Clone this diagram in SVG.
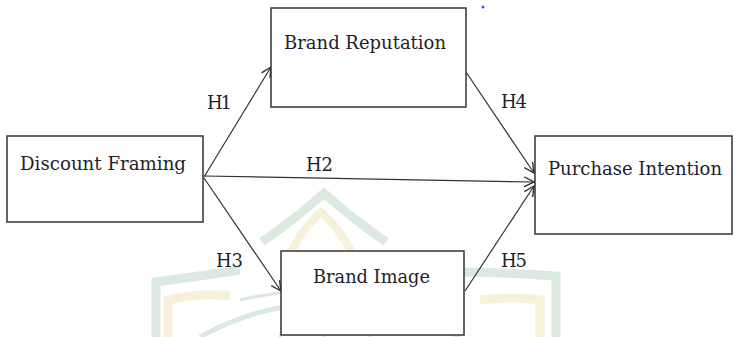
<svg xmlns="http://www.w3.org/2000/svg" width="735" height="337" viewBox="0 0 735 337">
  <style>
    .box { fill: #ffffff; stroke: #333333; stroke-width: 1.5; }
    .lbl { font-family: "DejaVu Serif", "Liberation Serif", serif; font-size: 18px; fill: #1e1e2a; }
    .hl { font-family: "DejaVu Serif", "Liberation Serif", serif; font-size: 18px; fill: #1e1e2a; }
    .conn { stroke: #333333; stroke-width: 1.2; fill: none; marker-end: url(#arr); }
    .wg { fill: none; stroke: #dbe9e1; }
    .wy { fill: none; stroke: #f7f0da; }
  </style>
  <defs>
    <marker id="arr" markerUnits="userSpaceOnUse" markerWidth="12" markerHeight="12" refX="10" refY="5" orient="auto" viewBox="0 0 12 10">
      <path d="M0,0 L10,5 L0,10" fill="none" stroke="#333333" stroke-width="1.4"/>
    </marker>
  </defs>
  <rect width="735" height="337" fill="#ffffff"/>
  <g id="watermark">
    <path class="wg" stroke-width="9" d="M262,242 Q300,215 324,193 Q348,215 386,242"/>
    <path class="wy" stroke-width="8" d="M283,268 Q300,230 321,212 Q342,230 360,268"/>
    <path class="wg" stroke-width="9" d="M156,337 L156,282 Q200,276 240,270"/>
    <path class="wg" stroke-width="9" d="M556,337 L556,276 Q510,272 440,272"/>
    <path class="wy" stroke-width="9" d="M168,337 L168,300 Q200,292 230,296"/>
    <path class="wy" stroke-width="9" d="M540,337 L540,300 Q515,296 480,300"/>
    <path class="wg" stroke-width="5" d="M200,337 Q320,270 460,337"/>
    <path class="wg" stroke-width="3" d="M240,300 Q324,280 420,300"/>
    <path class="wg" stroke-width="3" d="M324,290 L324,337 M300,295 Q285,315 280,337 M350,295 Q365,315 370,337"/>
  </g>
  <g id="connectors">
    <line class="conn" x1="204" y1="177" x2="271" y2="67"/>
    <line class="conn" x1="204" y1="176" x2="534" y2="182"/>
    <line class="conn" x1="204" y1="178" x2="281" y2="291"/>
    <line class="conn" x1="466" y1="72" x2="534" y2="173"/>
    <line class="conn" x1="465" y1="291" x2="534" y2="186"/>
  </g>
  <g id="labels">
    <text class="hl" x="207" y="109" textLength="25">H1</text>
    <text class="hl" x="306" y="171" textLength="27">H2</text>
    <text class="hl" x="216" y="267" textLength="27">H3</text>
    <text class="hl" x="501" y="108" textLength="26">H4</text>
    <text class="hl" x="501" y="267" textLength="26">H5</text>
  </g>
  <g id="discount-framing">
    <rect class="box" x="7" y="136" width="196" height="86"/>
    <text class="lbl" x="20" y="170" textLength="166" lengthAdjust="spacingAndGlyphs">Discount Framing</text>
  </g>
  <g id="brand-reputation">
    <rect class="box" x="271" y="8" width="195" height="99"/>
    <text class="lbl" x="284" y="49" textLength="162" lengthAdjust="spacingAndGlyphs">Brand Reputation</text>
  </g>
  <g id="purchase-intention">
    <rect class="box" x="535" y="136" width="197" height="98"/>
    <text class="lbl" x="548" y="175" textLength="174" lengthAdjust="spacingAndGlyphs">Purchase Intention</text>
  </g>
  <g id="brand-image">
    <rect class="box" x="281" y="251" width="183" height="84"/>
    <text class="lbl" x="313" y="283" textLength="117" lengthAdjust="spacingAndGlyphs">Brand Image</text>
  </g>
  <circle cx="483" cy="7" r="1.5" fill="#3b4bff"/>
</svg>
